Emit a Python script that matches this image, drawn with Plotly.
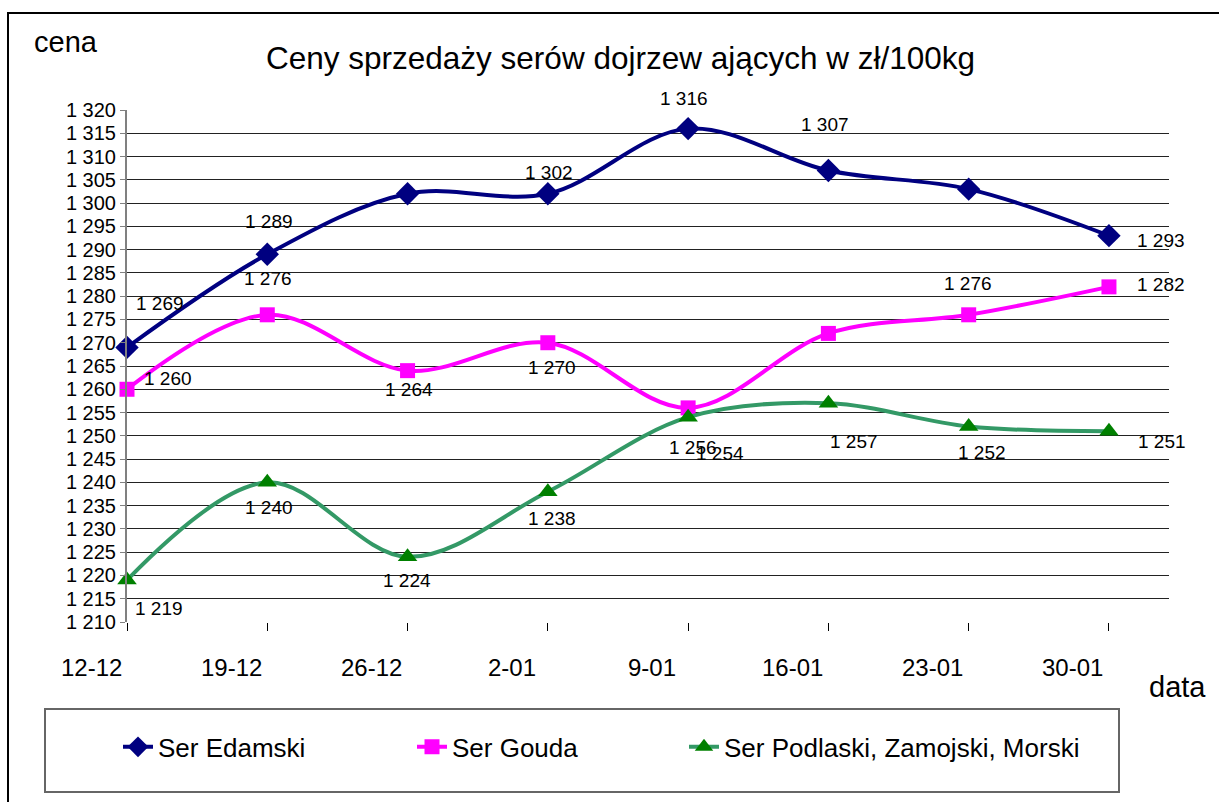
import plotly.graph_objects as go

categories = ["12-12", "19-12", "26-12", "2-01", "9-01", "16-01", "23-01", "30-01"]
edamski = [1269, 1289, 1302, 1302, 1316, 1307, 1303, 1293]
gouda = [1260, 1276, 1264, 1270, 1256, 1272, 1276, 1282]
podlaski = [1219, 1240, 1224, 1238, 1254, 1257, 1252, 1251]
series_names = ["Ser Edamski", "Ser Gouda", "Ser Podlaski, Zamojski, Morski"]
y_ticks = list(range(1210, 1321, 5))

# label offsets (px) per point; None = label not shown
label_offsets = {
    "Ser Edamski": [(33, 44), (2, 33), None, (1, 21), (-4, 30), (-3, 46), None, (52, -5)],
    "Ser Gouda": [(41, 11), (1, 36), (1, -19), (4, -25), (5, -40), None, (-1, 31), (52, 2)],
    "Ser Podlaski, Zamojski, Morski": [(32, -28), (2, -25), (-1, -24), (4, -27), (32, -36), (26, -38), (13, -26), (53, -10)],
}

FONT = "Arial, Liberation Sans, sans-serif"
x = list(range(len(categories)))

PLOT_L, PLOT_W = 127, 1042
def px_to_paper_x(px):
    return (px - PLOT_L) / PLOT_W

styles = [
    dict(line=dict(color="#000080", width=4), marker=dict(symbol="diamond", size=18, color="#000080")),
    dict(line=dict(color="#FF00FF", width=4), marker=dict(symbol="square", size=15, color="#FF00FF")),
    dict(line=dict(color="#339966", width=4), marker=dict(symbol="triangle-up", size=17, color="#008000")),
]
legend_ids = ["legend", "legend2", "legend3"]
legend_px = [118, 412, 684]

fig = go.Figure()
for name, vals, st, lg in zip(series_names, [edamski, gouda, podlaski], styles, legend_ids):
    fig.add_trace(go.Scatter(
        x=x, y=vals, name=name, mode="lines+markers",
        line=dict(shape="spline", smoothing=1, **st["line"]),
        marker=st["marker"], cliponaxis=False, legend=lg,
    ))

annotations = []
for name, vals in zip(series_names, [edamski, gouda, podlaski]):
    for i, v in enumerate(vals):
        off = label_offsets[name][i]
        if off is None:
            continue
        annotations.append(dict(
            x=i, y=v, xref="x", yref="y", text=f"{v:,}".replace(",", " "),
            showarrow=False, xshift=off[0], yshift=off[1],
            font=dict(family=FONT, size=19, color="black"),
        ))

for i, c in enumerate(categories):
    annotations.append(dict(
        x=i, y=-0.088, xref="x", yref="paper", text=c, showarrow=False,
        xshift=-36, yanchor="middle", font=dict(family=FONT, size=24, color="black"),
    ))

annotations.append(dict(x=px_to_paper_x(66), y=1.133, xref="paper", yref="paper", text="cena",
                        showarrow=False, xanchor="center", yanchor="middle",
                        font=dict(family=FONT, size=29, color="black")))
annotations.append(dict(x=px_to_paper_x(1177), y=-0.127, xref="paper", yref="paper", text="data",
                        showarrow=False, xanchor="center", yanchor="middle",
                        font=dict(family=FONT, size=29, color="black")))
annotations.append(dict(x=px_to_paper_x(620), y=1.1016, xref="paper", yref="paper",
                        text="Ceny sprzedaży serów dojrzew ających w zł/100kg",
                        showarrow=False, xanchor="center", yanchor="middle",
                        font=dict(family=FONT, size=31.5, color="black")))

shapes = [
    # outer chart frame (left + top edges visible)
    dict(type="rect", xref="paper", yref="paper", x0=px_to_paper_x(8), x1=1.3, y0=-0.5, y1=1.1895,
         line=dict(color="black", width=2), layer="below"),
    # legend box
    dict(type="rect", xref="paper", yref="paper", x0=px_to_paper_x(45), x1=px_to_paper_x(1119),
         y0=-0.332, y1=-0.170, line=dict(color="#666666", width=2), layer="below"),
]

legend_common = dict(orientation="h", xanchor="left", y=-0.244, yanchor="middle",
                     font=dict(family=FONT, size=26, color="black"),
                     bgcolor="rgba(0,0,0,0)", borderwidth=0)

fig.update_layout(
    width=1219, height=802,
    margin=dict(l=127, r=50, t=110, b=180),
    paper_bgcolor="white", plot_bgcolor="white",
    separators=", ",
    font=dict(family=FONT, color="black"),
    showlegend=True,
    legend=dict(x=px_to_paper_x(legend_px[0]), **legend_common),
    legend2=dict(x=px_to_paper_x(legend_px[1]), **legend_common),
    legend3=dict(x=px_to_paper_x(legend_px[2]), **legend_common),
    annotations=annotations,
    shapes=shapes,
)
fig.update_xaxes(
    range=[0, 7.428], tickvals=x, showticklabels=False, ticks="outside", ticklen=8,
    tickcolor="black", showgrid=False, zeroline=False, showline=False, fixedrange=True,
)
fig.update_yaxes(
    range=[1210, 1320], tickvals=y_ticks, tickformat=",d", ticks="outside", ticklen=5,
    tickcolor="#808080", showline=True, linecolor="#808080", linewidth=2,
    showgrid=True, gridcolor="#222222", gridwidth=1, zeroline=False, automargin=False,
    tickfont=dict(family=FONT, size=20, color="black"),
)

fig.write_html("out.html", config={"displayModeBar": False},
               post_script="document.body.style.margin='0';document.body.style.overflow='hidden';")
